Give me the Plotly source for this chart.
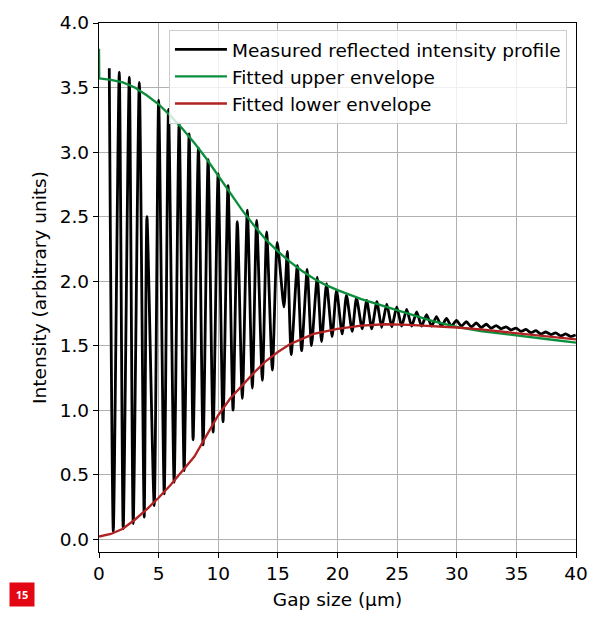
import plotly.graph_objects as go

# Measured profile: peaks and troughs
peak_x = [0.86, 1.70, 2.54, 3.38, 4.02, 5.00, 5.83, 6.72, 7.56, 8.34, 9.15, 9.99,
          10.82, 11.60, 12.44, 13.22, 14.06, 14.95, 15.79, 16.63, 17.46, 18.30,
          19.08, 19.92, 20.75, 21.59, 22.45, 23.30, 24.13, 24.97, 25.80, 26.64,
          27.47, 28.30, 29.14, 29.97, 30.80, 31.64, 32.47, 33.30, 34.14, 34.97,
          35.80, 36.64, 37.47, 38.30, 39.14, 39.97]
peak_y = [3.65, 3.62, 3.58, 3.54, 2.50, 3.40, 3.33, 3.22, 3.14, 3.03, 2.94, 2.83,
          2.74, 2.46, 2.55, 2.47, 2.38, 2.30, 2.23, 2.12, 2.09, 2.03,
          1.98, 1.93, 1.89, 1.87, 1.85, 1.84, 1.82, 1.80, 1.78, 1.76,
          1.74, 1.725, 1.71, 1.695, 1.685, 1.675, 1.665, 1.655, 1.645, 1.635,
          1.625, 1.615, 1.605, 1.598, 1.59, 1.582]
trough_x = [1.20, 2.03, 2.87, 3.79, 4.63, 5.47, 6.30, 7.14, 7.89, 8.73, 9.57,
            10.40, 11.24, 12.02, 12.86, 13.70, 14.54, 15.51, 16.12, 16.99, 17.82,
            18.66, 19.55, 20.39, 21.23, 22.07, 22.87, 23.70, 24.55, 25.38, 26.22,
            27.05, 27.89, 28.72, 29.55, 30.39, 31.22, 32.05, 32.89, 33.72, 34.55,
            35.39, 36.22, 37.05, 37.89, 38.72, 39.55]
trough_y = [0.06, 0.08, 0.12, 0.17, 0.26, 0.35, 0.44, 0.53, 0.77, 0.73, 0.83,
            0.91, 1.00, 1.09, 1.17, 1.23, 1.31, 1.80, 1.43, 1.46, 1.50,
            1.53, 1.57, 1.59, 1.61, 1.63, 1.63, 1.64, 1.645, 1.65, 1.65,
            1.65, 1.65, 1.65, 1.65, 1.65, 1.645, 1.64, 1.635, 1.63, 1.62,
            1.61, 1.60, 1.59, 1.585, 1.575, 1.57]

# Fitted envelopes
upper_x = [0, 0.02, 1, 2, 3, 4, 5, 6, 7, 8, 9, 10, 11, 12, 13, 14, 15, 16, 17, 18,
           19, 20, 22, 24, 26, 28, 30, 32, 34, 36, 38, 40]
upper_y = [3.80, 3.57, 3.56, 3.54, 3.50, 3.44, 3.37, 3.28, 3.18, 3.07, 2.95, 2.82,
           2.68, 2.55, 2.43, 2.32, 2.23, 2.15, 2.08, 2.02, 1.97, 1.93, 1.86, 1.80,
           1.745, 1.69, 1.645, 1.612, 1.588, 1.568, 1.545, 1.522]
lower_x = [0, 1, 2, 3, 4, 5, 6, 7, 8, 9, 10, 11, 12, 13, 14, 15, 16, 17, 18, 19,
           20, 22, 24, 26, 28, 30, 32, 34, 36, 38, 40]
lower_y = [0.02, 0.04, 0.08, 0.15, 0.23, 0.32, 0.42, 0.53, 0.64, 0.80, 0.96, 1.09,
           1.19, 1.29, 1.38, 1.45, 1.51, 1.55, 1.59, 1.61, 1.63, 1.655, 1.665,
           1.66, 1.652, 1.64, 1.625, 1.605, 1.59, 1.57, 1.548]

x_ticks = [0, 5, 10, 15, 20, 25, 30, 35, 40]
y_ticks = [0.0, 0.5, 1.0, 1.5, 2.0, 2.5, 3.0, 3.5, 4.0]

pts = sorted(zip(peak_x + trough_x, peak_y + trough_y))
meas_x = [p[0] for p in pts]
meas_y = [p[1] for p in pts]

fig = go.Figure()
fig.add_trace(go.Scatter(x=meas_x, y=meas_y, mode="lines",
                         line=dict(color="black", width=2.8, shape="spline", smoothing=0.6),
                         name="Measured reflected intensity profile"))
fig.add_trace(go.Scatter(x=upper_x, y=upper_y, mode="lines",
                         line=dict(color="#0b8f3c", width=2.3),
                         name="Fitted upper envelope"))
fig.add_trace(go.Scatter(x=lower_x, y=lower_y, mode="lines",
                         line=dict(color="#b22222", width=2.3),
                         name="Fitted lower envelope"))

font = dict(family="DejaVu Sans", size=18.5, color="black")
axis_common = dict(showgrid=True, gridcolor="#b0b0b0", gridwidth=1.3,
                   showline=True, linecolor="black", linewidth=1.3, mirror=True,
                   ticks="outside", ticklen=5, tickwidth=1.3, tickcolor="black",
                   zeroline=False, tickfont=font)

fig.update_layout(
    width=604, height=619,
    margin=dict(l=99, r=28, t=23, b=67),
    paper_bgcolor="white", plot_bgcolor="white",
    font=font,
    showlegend=True,
    legend=dict(x=0.981, y=0.987, xanchor="right", yanchor="top",
                bgcolor="rgba(255,255,255,0.8)", bordercolor="#cccccc",
                borderwidth=1, font=font, itemwidth=52),
    xaxis=dict(range=[0, 40], tickvals=x_ticks,
               title=dict(text="Gap size (µm)", font=font, standoff=9),
               **axis_common),
    yaxis=dict(range=[-0.1, 4.0], tickvals=y_ticks, tickformat=".1f",
               title=dict(text="Intensity (arbitrary units)", font=font, standoff=8),
               **axis_common),
    annotations=[dict(text="<b>15</b>", xref="paper", yref="paper",
                      x=-0.161, y=-0.0794, xanchor="center", yanchor="middle",
                      showarrow=False, bgcolor="#e30613", width=22, height=21,
                      font=dict(family="Open Sans", size=11, color="white"))],
)

fig.write_html("out.html")
